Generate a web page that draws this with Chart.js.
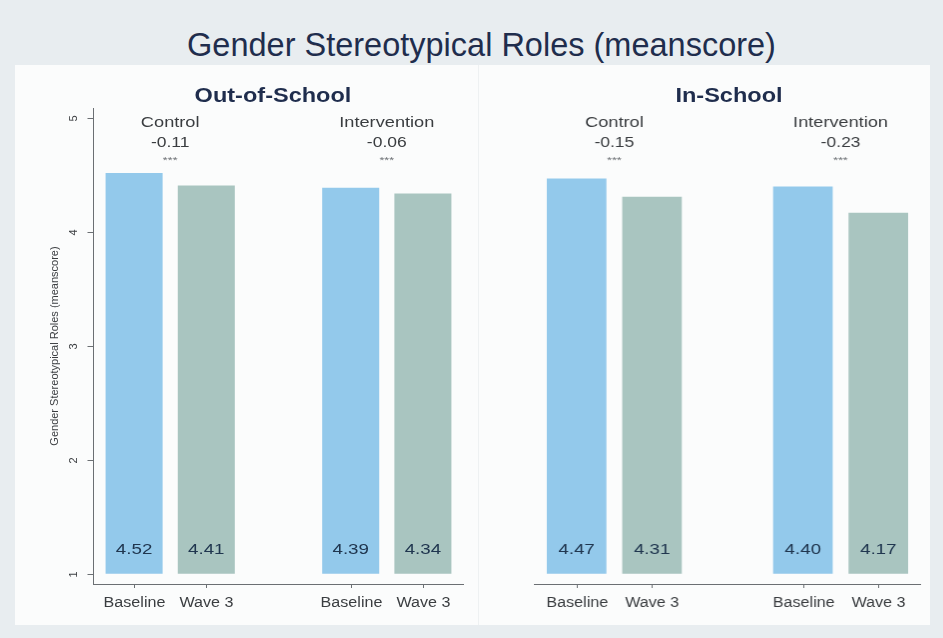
<!DOCTYPE html>
<html>
<head>
<meta charset="utf-8">
<title>Gender Stereotypical Roles</title>
<script src="https://cdn.jsdelivr.net/npm/chart.js@4"></script>
<style>
  body { margin: 0; background: #e8edf0; font-family: "Liberation Sans", Arial, sans-serif; }
  #wrap { position: relative; width: 943px; height: 638px; overflow: hidden; }
  #titulo {
    position: absolute; left: 0; top: 27px; width: 963px; text-align: center;
    font-size: 32.5px; color: #1f2d4d; white-space: nowrap;
  }
  #panel {
    position: absolute; left: 15px; top: 65px; width: 915px; height: 560px; background: #fbfcfc;
  }
  .sub {
    position: absolute; top: 18px; width: 240px; font-weight: bold; font-size: 21px; color: #1f2d4d;
    text-align: center; white-space: nowrap; transform: scaleX(1.12);
  }
  canvas { position: absolute; top: 0; }
  #cOut { left: 0; }
  #cIn { left: 463px; border-left: 1px solid #eef1f2; }
</style>
</head>
<body>
<div id="wrap">
  <div id="titulo">Gender Stereotypical Roles (meanscore)</div>
  <div id="panel">
    <canvas id="cOut" width="463" height="560"></canvas>
    <canvas id="cIn" width="451" height="560"></canvas>
    <div class="sub" style="left:138px">Out-of-School</div>
    <div class="sub" style="left:594px">In-School</div>
  </div>
</div>
<script>
// datos
const categorias = ['Baseline', 'Wave 3', '', 'Baseline', 'Wave 3'];
const grupos = ['Control', 'Intervention'];
const fueraEscuela = [4.52, 4.41, null, 4.39, 4.34];
const enEscuela = [4.47, 4.31, null, 4.40, 4.17];
const difFuera = [-0.11, -0.06];
const difEn = [-0.15, -0.23];
const yTicks = [1, 2, 3, 4, 5];

const azul = '#93c9eb';
const verde = '#a9c5c0';
const colores = [azul, verde, azul, azul, verde];
const fuente = '"Liberation Sans", Arial, sans-serif';

// texto un poco mas ancho, como en la grafica de Stata
function textoAncho(ctx, txt, x, y, sx) {
  ctx.save();
  ctx.translate(x, y);
  ctx.scale(sx, 1);
  ctx.fillText(txt, 0, 0);
  ctx.restore();
}

/* ==================
    EJES Y ETIQUETAS
================== */
function dibujarPanel(dif, conEjeY) {
  return {
    id: 'panelStata',
    afterDatasetsDraw(chart) {
      const ctx = chart.ctx;
      const area = chart.chartArea;
      const x = chart.scales.x;
      const y = chart.scales.y;
      ctx.save();
      ctx.strokeStyle = '#6b6f73';
      ctx.lineWidth = 1;

      // eje x
      ctx.beginPath();
      ctx.moveTo(area.left - 5, Math.round(area.bottom) + 0.5);
      ctx.lineTo(area.right + 5, Math.round(area.bottom) + 0.5);
      ctx.stroke();

      ctx.font = '14px ' + fuente;
      ctx.textAlign = 'center';
      ctx.textBaseline = 'middle';
      categorias.forEach((c, i) => {
        if (!c) return;
        const px = Math.round(x.getPixelForValue(i)) + 0.5;
        ctx.beginPath();
        ctx.moveTo(px, area.bottom);
        ctx.lineTo(px, area.bottom + 4);
        ctx.stroke();
        ctx.fillStyle = '#3a3d40';
        textoAncho(ctx, c, px, area.bottom + 19, 1.15);
      });

      // eje y (solo panel izquierdo)
      if (conEjeY) {
        const ex = Math.round(area.left - 5) + 0.5;
        ctx.beginPath();
        ctx.moveTo(ex, area.top);
        ctx.lineTo(ex, area.bottom);
        ctx.stroke();
        ctx.font = '11px ' + fuente;
        yTicks.forEach(t => {
          const py = Math.round(y.getPixelForValue(t)) + 0.5;
          ctx.beginPath();
          ctx.moveTo(ex - 6, py);
          ctx.lineTo(ex, py);
          ctx.stroke();
          ctx.save();
          ctx.translate(ex - 20, py);
          ctx.rotate(-Math.PI / 2);
          ctx.fillStyle = '#3a3d40';
          ctx.fillText(String(t), 0, 0);
          ctx.restore();
        });
      }

      // valores dentro de las barras
      const meta = chart.getDatasetMeta(0);
      const valores = chart.data.datasets[0].data;
      ctx.font = '15px ' + fuente;
      meta.data.forEach((bar, i) => {
        if (valores[i] == null) return;
        ctx.fillStyle = '#20364f';
        textoAncho(ctx, valores[i].toFixed(2), bar.x, y.getPixelForValue(1) - 24, 1.25);
      });

      // grupo, diferencia y estrellas
      grupos.forEach((g, k) => {
        const i0 = k * 3;
        const cx = (x.getPixelForValue(i0) + x.getPixelForValue(i0 + 1)) / 2;
        ctx.fillStyle = '#3a3d40';
        ctx.font = '14px ' + fuente;
        textoAncho(ctx, g, cx, 58, 1.3);
        textoAncho(ctx, dif[k].toFixed(2), cx, 78, 1.25);
        ctx.font = '9px ' + fuente;
        ctx.fillStyle = '#6b6f73';
        textoAncho(ctx, '***', cx, 96, 1.4);
      });
      ctx.restore();
    }
  };
}

function crearGrafica(id, valores, dif, conEjeY, padIzq, padDer) {
  const lienzo = document.getElementById(id).getContext('2d');
  return new Chart(lienzo, {
    type: 'bar',
    data: {
      labels: categorias,
      datasets: [{
        data: valores,
        base: 1,
        backgroundColor: colores,
        barPercentage: 0.79,
        categoryPercentage: 1
      }]
    },
    options: {
      responsive: false,
      animation: false,
      layout: { padding: { top: 43, left: padIzq, right: padDer, bottom: 0 } },
      plugins: { legend: { display: false }, tooltip: { enabled: false } },
      scales: {
        x: {
          grid: { display: false },
          border: { display: false },
          ticks: { display: false },
          afterFit: s => { s.height = 41; }
        },
        y: {
          display: conEjeY,
          min: 0.91,
          max: 5.09,
          grid: { display: false },
          border: { display: false },
          ticks: { display: false },
          title: {
            display: true,
            text: 'Gender Stereotypical Roles (meanscore)',
            color: '#3a3d40',
            font: { size: 11, family: fuente },
            padding: { top: 33, bottom: 0 }
          },
          afterFit: s => { s.width = conEjeY ? 83 : 0; }
        }
      }
    },
    plugins: [dibujarPanel(dif, conEjeY)]
  });
}

crearGrafica('cOut', fueraEscuela, difFuera, true, 0, 19);
crearGrafica('cIn', enEscuela, difEn, false, 60, 13);
</script>
</body>
</html>
